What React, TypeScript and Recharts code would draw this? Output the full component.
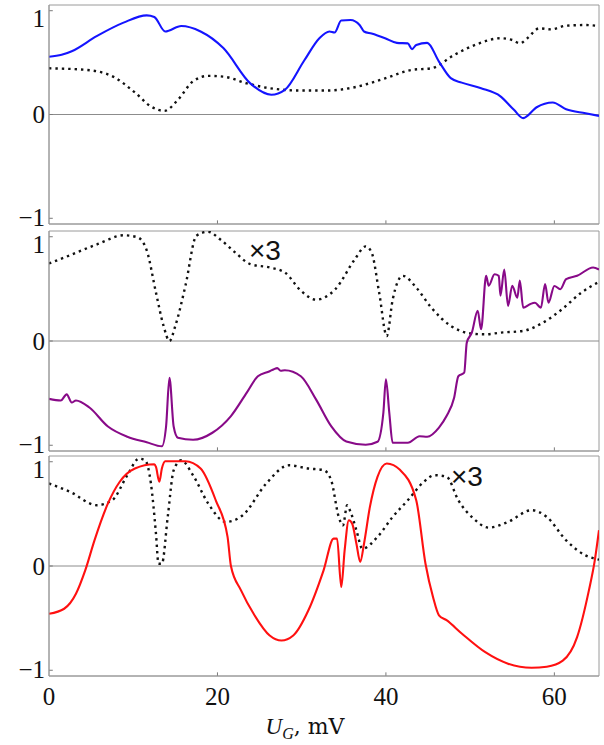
import React from 'react';
import { LineChart, Line, XAxis, YAxis, ReferenceLine, ReferenceArea } from 'recharts';

const xTicks = [0, 20, 40, 60];
const yTicks = [-1, 0, 1];
const innerXTicks = [20, 40, 60];
const X_MAX = 65.3;
const Y_LIM = 1.055;

// Panel 1 (top)
const p1Blue: [number, number][] = [
  [0, 0.557], [1.5, 0.575], [2.7, 0.61], [5.66, 0.755], [8.85, 0.885], [11.6, 0.955], [12.5, 0.94],
  [13.8, 0.8], [15.7, 0.852], [18.0, 0.8], [20.7, 0.64], [23.9, 0.3], [26.4, 0.19], [28.0, 0.237],
  [30.3, 0.52], [32.1, 0.735], [33.3, 0.8], [33.9, 0.79], [34.7, 0.905], [35.8, 0.91], [36.9, 0.86],
  [37.4, 0.8], [38.3, 0.78], [39.9, 0.735], [41.3, 0.69], [42.6, 0.685], [43.1, 0.63], [43.6, 0.67],
  [44.9, 0.69], [46.3, 0.51], [47.7, 0.35], [49.0, 0.307], [51.3, 0.253], [53.6, 0.175], [55.2, 0.045],
  [56.3, -0.035], [57.9, 0.07], [59.8, 0.115], [61.4, 0.05], [63.7, 0.012], [65.3, -0.013],
];
const p1Dotted: [number, number][] = [
  [0, 0.445], [4.4, 0.43], [7.6, 0.365], [10.3, 0.205], [12.1, 0.077], [13.7, 0.035], [15.3, 0.141],
  [17.1, 0.32], [18.9, 0.372], [20.7, 0.365], [23.5, 0.3], [26.2, 0.253], [29.9, 0.231], [33.1, 0.231],
  [36.3, 0.263], [39.9, 0.348], [43.1, 0.43], [45.4, 0.445], [48.1, 0.574], [50.9, 0.68], [53.6, 0.735],
  [55.0, 0.718], [55.9, 0.686], [56.8, 0.735], [58.2, 0.83], [59.6, 0.82], [61.4, 0.856], [63.7, 0.862],
  [65.3, 0.852],
];

// Panel 2 (middle)
const p2Dotted: [number, number][] = [
  [0, 0.744], [1.8, 0.8], [5.7, 0.927], [8.9, 1.014], [10.5, 0.995], [11.6, 0.87], [12.7, 0.464],
  [13.6, 0.145], [14.3, 0.0], [15.0, 0.145], [16.2, 0.53], [17.5, 1.01], [18.9, 1.048], [20.3, 0.976],
  [22.1, 0.85], [23.9, 0.737], [26.2, 0.705], [28.0, 0.657], [29.9, 0.483], [31.7, 0.396], [34.0, 0.497],
  [36.3, 0.782], [37.6, 0.908], [38.3, 0.85], [39.2, 0.464], [40.1, 0.048], [40.8, 0.396], [42.0, 0.625],
  [43.6, 0.512], [45.4, 0.319], [47.7, 0.145], [50.0, 0.073], [51.8, 0.064], [53.6, 0.08], [56.3, 0.097],
  [58.6, 0.174], [60.9, 0.304], [63.2, 0.464], [65.3, 0.567],
];
const p2Purple: [number, number][] = [
  [0, -0.555], [1.4, -0.57], [2.1, -0.512], [2.7, -0.59], [3.2, -0.57], [4.8, -0.638], [7.0, -0.82],
  [9.3, -0.918], [11.6, -0.971], [13.4, -1.01], [13.9, -0.82], [14.3, -0.353], [14.8, -0.82], [15.3, -0.927],
  [17.1, -0.947], [19.4, -0.88], [21.6, -0.72], [23.5, -0.493], [24.8, -0.338], [26.2, -0.29], [26.7, -0.27],
  [27.1, -0.26], [27.5, -0.285], [28.0, -0.28], [29.9, -0.338], [31.7, -0.56], [33.5, -0.817], [35.3, -0.964],
  [37.6, -0.995], [39.0, -0.966], [39.7, -0.686], [40.0, -0.367], [40.4, -0.686], [40.8, -0.976], [42.6, -0.976],
  [44.0, -0.913], [44.9, -0.918], [46.3, -0.83], [47.2, -0.72], [48.1, -0.545], [48.6, -0.338], [49.3, -0.304],
  [49.6, -0.016], [50.2, 0.08], [50.9, 0.29], [51.3, 0.112], [51.9, 0.625], [52.2, 0.53], [52.9, 0.64],
  [53.4, 0.625], [53.6, 0.435], [54.05, 0.686], [54.5, 0.338], [55.0, 0.53], [55.6, 0.415], [55.9, 0.58],
  [56.3, 0.319], [57.1, 0.353], [57.7, 0.367], [58.4, 0.319], [58.9, 0.546], [59.3, 0.367], [60.0, 0.528],
  [60.7, 0.497], [61.4, 0.593], [62.7, 0.625], [64.6, 0.705], [65.3, 0.686],
];

// Panel 3 (bottom)
const p3Red: [number, number][] = [
  [0, -0.458], [1.8, -0.41], [3.2, -0.266], [4.3, -0.042], [5.4, 0.246], [7.0, 0.6], [8.4, 0.808],
  [10.2, 0.935], [12.5, 0.976], [12.7, 0.95], [13.1, 0.808], [13.4, 0.935], [13.8, 1.005], [16.2, 1.005],
  [18.0, 0.935], [19.8, 0.63], [21.2, 0.28], [21.6, 0.0], [22.8, -0.234], [24.4, -0.473], [26.2, -0.667],
  [27.6, -0.715], [29.0, -0.667], [30.8, -0.425], [32.6, -0.042], [33.8, 0.263], [34.2, 0.263], [34.7, -0.202],
  [35.1, 0.15], [35.6, 0.439], [36.0, 0.406], [36.5, 0.214], [36.95, 0.04], [37.4, 0.214], [38.1, 0.567],
  [39.0, 0.855], [40.1, 0.983], [41.7, 0.92], [43.6, 0.63], [44.7, 0.022], [45.6, -0.3], [46.3, -0.473],
  [47.2, -0.52], [49.0, -0.647], [51.8, -0.827], [54.5, -0.937], [57.3, -0.976], [59.1, -0.966],
  [61.0, -0.908], [62.7, -0.682], [64.1, -0.234], [64.8, 0.054], [65.3, 0.343],
];
const p3Dotted: [number, number][] = [
  [0, 0.792], [2.5, 0.711], [5.7, 0.583], [7.5, 0.63], [9.3, 0.871], [10.7, 1.03], [11.4, 1.014],
  [12.1, 0.792], [12.7, 0.31], [13.0, 0.022], [13.4, 0.022], [14.1, 0.473], [14.8, 0.918], [15.7, 1.014],
  [17.1, 0.87], [18.9, 0.6], [21.0, 0.423], [23.0, 0.487], [25.8, 0.792], [28.5, 0.966], [30.8, 0.935],
  [32.6, 0.92], [33.5, 0.823], [34.4, 0.471], [34.9, 0.39], [35.4, 0.583], [35.8, 0.519], [36.5, 0.343],
  [37.2, 0.166], [39.0, 0.279], [40.8, 0.471], [42.6, 0.63], [44.5, 0.808], [45.8, 0.871], [47.2, 0.856],
  [48.6, 0.63], [50.4, 0.455], [52.2, 0.368], [54.5, 0.423], [57.3, 0.535], [59.1, 0.471], [61.4, 0.246],
  [63.7, 0.102], [65.3, 0.061],
];

const toPts = (arr: [number, number][]) => arr.map(([x, y]) => ({ x, y }));

const SERIF = '"Liberation Serif", "Times New Roman", serif';
const SANS = '"Liberation Sans", Arial, sans-serif';
const FRAME = '#9a9a9a';
const TICK = '#7a7a7a';

const YTick = (props: any) => {
  const { y, payload } = props;
  const v = payload.value;
  const dy = v === 1 ? 8 : v === -1 ? -1.5 : 0;
  const label = v < 0 ? '\u2212' + Math.abs(v) : String(v);
  return (
    <text x={45} y={y + dy} dy="0.35em" textAnchor="end" fontFamily={SERIF} fontSize={25} fill="#111">
      {label}
    </text>
  );
};

const XTick = (props: any) => {
  const { x, payload } = props;
  return (
    <text x={x} y={245} dy="0.35em" textAnchor="middle" fontFamily={SERIF} fontSize={25} fill="#111">
      {payload.value}
    </text>
  );
};

type Series = { data: [number, number][]; color: string; dotted?: boolean };

const Panel = ({ top, height, marginBottom, series, showX }: { top: number; height: number; marginBottom: number; series: Series[]; showX: boolean }) => (
  <div style={{ position: 'absolute', left: 0, top, width: 604, height }}>
    <LineChart width={604} height={height} margin={{ top: 5, right: 5, bottom: 0, left: 0 }}>
      <XAxis
        type="number"
        dataKey="x"
        domain={[0, X_MAX]}
        allowDataOverflow
        ticks={xTicks}
        height={marginBottom}
        tickLine={false}
        stroke={FRAME}
        tick={showX ? <XTick /> : false}
        interval={0}
      />
      <YAxis
        type="number"
        domain={[-Y_LIM, Y_LIM]}
        allowDataOverflow
        ticks={yTicks}
        width={49}
        tickLine={false}
        stroke={FRAME}
        tick={<YTick />}
        interval={0}
      />
      <ReferenceArea x1={0} x2={X_MAX} y1={-Y_LIM} y2={Y_LIM} stroke={FRAME} strokeWidth={1} fill="none" fillOpacity={0} />
      <ReferenceLine y={0} stroke="#8c8c8c" strokeWidth={1} />
      {innerXTicks.map((t) => (
        <ReferenceLine key={'xt' + t} segment={[{ x: t, y: -Y_LIM }, { x: t, y: -Y_LIM + 0.035 }]} stroke={TICK} strokeWidth={1} />
      ))}
      {yTicks.map((t) => (
        <ReferenceLine key={'yt' + t} segment={[{ x: 0, y: t }, { x: 0.45, y: t }]} stroke={TICK} strokeWidth={1} />
      ))}
      {series.map((s, i) => (
        <Line
          key={i}
          data={toPts(s.data)}
          dataKey="y"
          type="monotone"
          stroke={s.color}
          strokeWidth={s.dotted ? 2.4 : 2.1}
          strokeDasharray={s.dotted ? '2.4 4' : undefined}
          dot={false}
          activeDot={false}
          isAnimationActive={false}
        />
      ))}
    </LineChart>
  </div>
);

export default function App() {
  return (
    <div style={{ position: 'absolute', left: 0, top: 0, width: 604, height: 745, background: '#fff' }}>
      <Panel
        top={0}
        height={231}
        marginBottom={7}
        showX={false}
        series={[
          { data: p1Dotted, color: '#111', dotted: true },
          { data: p1Blue, color: '#1414ff' },
        ]}
      />
      <Panel
        top={226}
        height={232}
        marginBottom={7}
        showX={false}
        series={[
          { data: p2Dotted, color: '#111', dotted: true },
          { data: p2Purple, color: '#880a88' },
        ]}
      />
      <Panel
        top={451}
        height={294}
        marginBottom={69}
        showX={true}
        series={[
          { data: p3Dotted, color: '#111', dotted: true },
          { data: p3Red, color: '#ff1010' },
        ]}
      />
      <div style={{ position: 'absolute', left: 249, top: 237, fontFamily: SANS, fontSize: 28, lineHeight: '28px', color: '#111' }}>×3</div>
      <div style={{ position: 'absolute', left: 451, top: 463, fontFamily: SANS, fontSize: 28, lineHeight: '28px', color: '#111' }}>×3</div>
      <div style={{ position: 'absolute', left: 205, top: 715, width: 200, textAlign: 'center', fontSize: 23, lineHeight: '23px', color: '#111', whiteSpace: 'nowrap' }}>
        <span style={{ fontFamily: SERIF, fontStyle: 'italic', fontSize: 23 }}>U</span>
        <span style={{ fontFamily: SERIF, fontStyle: 'italic', fontSize: 16, position: 'relative', top: 5 }}>G</span>
        <span style={{ fontFamily: '"DejaVu Serif", serif', fontSize: 22 }}>, mV</span>
      </div>
    </div>
  );
}
